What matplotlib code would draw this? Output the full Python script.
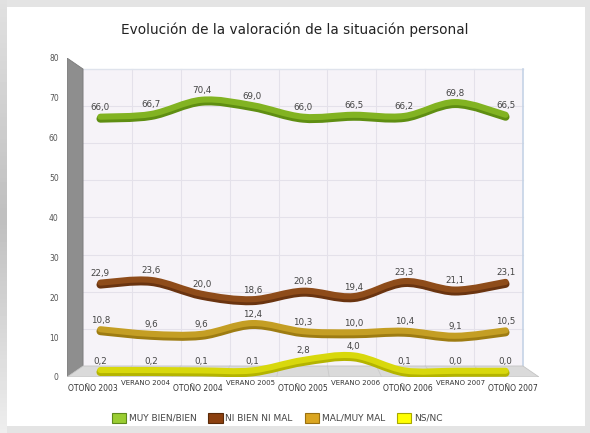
import numpy as np
import matplotlib.pyplot as plt
from matplotlib.path import Path
from matplotlib.patches import PathPatch, Polygon, Rectangle, Patch
from matplotlib.transforms import ScaledTranslation

periodos = ["OTOÑO 2003", "VERANO 2004", "OTOÑO 2004", "VERANO 2005", "OTOÑO 2005",
            "VERANO 2006", "OTOÑO 2006", "VERANO 2007", "OTOÑO 2007"]
muy_bien = [66.0, 66.7, 70.4, 69.0, 66.0, 66.5, 66.2, 69.8, 66.5]
ni_bien = [22.9, 23.6, 20.0, 18.6, 20.8, 19.4, 23.3, 21.1, 23.1]
mal = [10.8, 9.6, 9.6, 12.4, 10.3, 10.0, 10.4, 9.1, 10.5]
ns_nc = [0.2, 0.2, 0.1, 0.1, 2.8, 4.0, 0.1, 0.0, 0.0]

# name, values, line colour, line shade, legend fill, legend edge
series = [
    ("MUY BIEN/BIEN", muy_bien, "#82b322", "#5f8e12", "#9acd32", "#5f8a1c"),
    ("NI BIEN NI MAL", ni_bien, "#8e4c1a", "#6a3410", "#8b3f0e", "#5a2a08"),
    ("MAL/MUY MAL", mal, "#c49e24", "#9e7c12", "#daa520", "#9a7010"),
    ("NS/NC", ns_nc, "#d8d80c", "#b4b400", "#ffff00", "#a8a800"),
]

W, H = 590, 433
fig = plt.figure(figsize=(W / 100, H / 100), dpi=100)
fig.patch.set_facecolor("#e4e4e4")

# grey gradient strip on the left
bg = fig.add_axes([0, 0, 7 / W, 1])
grad = np.concatenate([np.linspace(0.88, 0.75, 50), np.linspace(0.75, 0.93, 50)])
bg.imshow(grad[:, None], cmap="gray", vmin=0, vmax=1, aspect="auto")
bg.axis("off")

fig.patches.append(Rectangle((7 / W, 7 / H), 578 / W, 419 / H, transform=fig.transFigure,
                             facecolor="white", edgecolor="none", zorder=-10))

ax = fig.add_axes([67 / W, (H - 377) / H, 472 / W, 319 / H])
ax.set_xlim(-0.5, 8.5)
ax.set_ylim(0, 80)
ax.patch.set_visible(False)
for s in ax.spines.values():
    s.set_visible(False)

# pseudo 3d: depth t=0 front plane, t=1 back wall
def depth(x, v, t):
    x = np.asarray(x, dtype=float)
    v = np.asarray(v, dtype=float)
    return 4 + (x - 4) * (1 - 0.068 * t), 2.76 * t + v * (1 - 0.069 * t)

# back wall
bx0, by0 = depth(-0.5, 0, 1)
bx1, by1 = depth(8.5, 80, 1)
ax.add_patch(Rectangle((bx0, by0), bx1 - bx0, by1 - by0, facecolor="#f6f3f8",
                       edgecolor="none", zorder=0))
for v in range(10, 80, 10):
    gx, gy = depth([-0.5, 8.5], [v, v], 1)
    ax.plot(gx, gy, color="#e4e1ea", lw=0.8, zorder=0.5)
for k in range(1, 9):
    gx, gy = depth([k - 0.5, k - 0.5], [0, 80], 1)
    ax.plot(gx, gy, color="#e4e1ea", lw=0.8, zorder=0.5)
ax.plot([bx0, bx1], [by1, by1], color="#dfe3ec", lw=1, zorder=0.6)
ax.plot([bx1, bx1], [by0, by1], color="#c5d3e6", lw=1.2, zorder=0.6)

# left wall
ax.add_patch(Polygon([(-0.5, 0), (-0.5, 80), (bx0, by1), (bx0, by0)], closed=True,
                     facecolor="#8e8e8e", edgecolor="#7a7a7a", lw=0.6, zorder=1))
# floor
ax.add_patch(Polygon([(-0.5, 0), (8.5, 0), (bx1, by0), (bx0, by0)], closed=True,
                     facecolor="#dadada", edgecolor="#c4c4c4", lw=0.6, zorder=1))
for k in range(1, 9):
    fx, fy = depth([k - 0.5, k - 0.5], [0, 0], 1)
    ax.plot([k - 0.5, fx[0]], [0, fy[0]], color="#cacaca", lw=0.6, zorder=1.2)


def smooth_path(xs, ys):
    pts = np.column_stack([xs, ys])
    verts = [pts[0]]
    codes = [Path.MOVETO]
    n = len(pts)
    for i in range(n - 1):
        p0 = pts[max(i - 1, 0)]
        p1, p2 = pts[i], pts[i + 1]
        p3 = pts[min(i + 2, n - 1)]
        verts += [p1 + (p2 - p0) / 6, p2 - (p3 - p1) / 6, p2]
        codes += [Path.CURVE4] * 3
    return Path(verts, codes)


idx = np.arange(len(periodos))
down = ax.transData + ScaledTranslation(0, -1.0 / 72, fig.dpi_scale_trans)
up = ax.transData + ScaledTranslation(0, 0.5 / 72, fig.dpi_scale_trans)
for z, (name, vals, col, dark, _, _) in enumerate(series):
    xs, ys = depth(idx, vals, 0.5)
    path = smooth_path(xs, ys)
    ax.add_patch(PathPatch(path, facecolor="none", edgecolor=dark, lw=5.6,
                           capstyle="round", transform=down, zorder=3 + z))
    ax.add_patch(PathPatch(path, facecolor="none", edgecolor=col, lw=4.4,
                           capstyle="round", transform=up, zorder=3 + z))
    for x, y, v in zip(xs, ys, vals):
        ax.annotate(f"{v:.1f}".replace(".", ","), (x, y), xytext=(0, 7),
                    textcoords="offset points", ha="center", va="center",
                    fontsize=6.3, color="#444444", zorder=10)

ax.set_yticks(range(0, 81, 10))
ax.set_xticks(idx, periodos)
ax.tick_params(length=0)
ax.tick_params(axis="y", labelsize=5.5, labelcolor="#555555", pad=6)
ax.tick_params(axis="x", labelsize=5.5, labelcolor="#333333", pad=5)
for i, lab in enumerate(ax.get_xticklabels()):
    if periodos[i].startswith("VERANO"):
        lab.set_fontsize(5)
        lab.set_transform(lab.get_transform() + ScaledTranslation(0, 2.5 / 72, fig.dpi_scale_trans))

fig.text(0.5, (H - 30) / H, "Evolución de la valoración de la situación personal",
         ha="center", va="center", fontsize=9.8, color="#222222")

handles = [Patch(facecolor=s[4], edgecolor=s[5], lw=0.8) for s in series]
fig.legend(handles, [s[0] for s in series], loc="center",
           bbox_to_anchor=(277 / W, (H - 418) / H), ncol=4, frameon=False,
           fontsize=6.5, handlelength=1.6, handleheight=1.3, handletextpad=0.3,
           columnspacing=1.3, labelcolor="#444444")

fig.savefig("out.png", dpi=100, facecolor=fig.get_facecolor())
